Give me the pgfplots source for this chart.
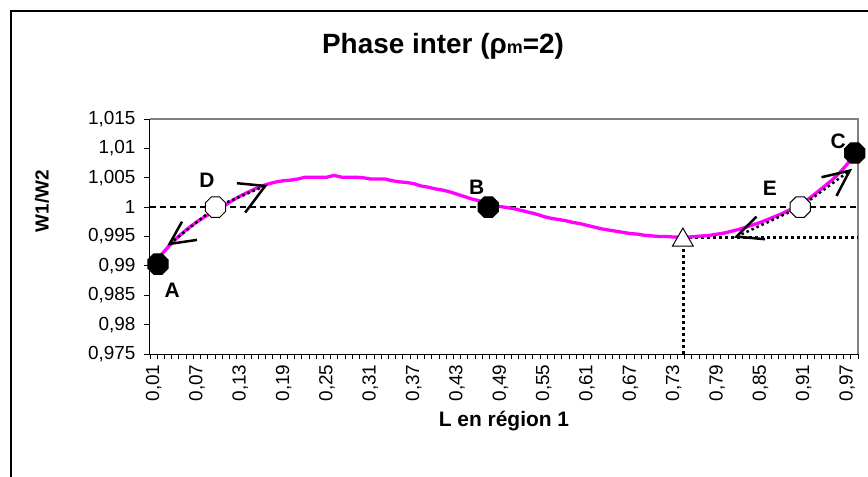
\documentclass[border=0pt]{standalone}
\usepackage{pgfplots}
\pgfplotsset{compat=1.18}
\usepackage{fontspec}
\setmainfont{Liberation Sans}
\definecolor{mag}{RGB}{255,0,255}
\pgfdeclareplotmark{octagon}{%
  \pgfpathmoveto{\pgfpointpolar{22.5}{\pgfplotmarksize}}%
  \pgfpathlineto{\pgfpointpolar{67.5}{\pgfplotmarksize}}%
  \pgfpathlineto{\pgfpointpolar{112.5}{\pgfplotmarksize}}%
  \pgfpathlineto{\pgfpointpolar{157.5}{\pgfplotmarksize}}%
  \pgfpathlineto{\pgfpointpolar{202.5}{\pgfplotmarksize}}%
  \pgfpathlineto{\pgfpointpolar{247.5}{\pgfplotmarksize}}%
  \pgfpathlineto{\pgfpointpolar{292.5}{\pgfplotmarksize}}%
  \pgfpathlineto{\pgfpointpolar{337.5}{\pgfplotmarksize}}%
  \pgfpathclose
  \pgfusepathqfillstroke}
\pgfplotstableread{
x v
0.01 0.9903
0.02 0.9918
0.03 0.9932
0.04 0.9945
0.05 0.9956
0.06 0.9966
0.07 0.9975
0.08 0.9983
0.09 0.9990
0.10 0.9997
0.11 1.0004
0.12 1.0012
0.13 1.0019
0.14 1.0025
0.15 1.0031
0.16 1.0036
0.17 1.0040
0.18 1.0043
0.19 1.0045
0.20 1.0046
0.21 1.0048
0.22 1.0051
0.23 1.0051
0.24 1.0051
0.25 1.0051
0.26 1.0054
0.27 1.0051
0.28 1.0051
0.29 1.0051
0.30 1.0050
0.31 1.0048
0.32 1.0048
0.33 1.0048
0.34 1.0045
0.35 1.0043
0.36 1.0042
0.37 1.0040
0.38 1.0036
0.39 1.0034
0.40 1.0031
0.41 1.0029
0.42 1.0026
0.43 1.0022
0.44 1.0018
0.45 1.0014
0.46 1.0011
0.47 1.0007
0.48 1.0003
0.49 1.0001
0.50 0.9999
0.51 0.9997
0.52 0.9994
0.53 0.9991
0.54 0.9988
0.55 0.9984
0.56 0.9981
0.57 0.9979
0.58 0.9977
0.59 0.9974
0.60 0.9972
0.61 0.9969
0.62 0.9966
0.63 0.9963
0.64 0.9961
0.65 0.9959
0.66 0.9957
0.67 0.9955
0.68 0.9954
0.69 0.9952
0.70 0.9951
0.71 0.9950
0.72 0.9950
0.73 0.9949
0.74 0.9949
0.75 0.9949
0.76 0.9950
0.77 0.9951
0.78 0.9952
0.79 0.9954
0.80 0.9956
0.81 0.9959
0.82 0.9962
0.83 0.9966
0.84 0.9970
0.85 0.9974
0.86 0.9979
0.87 0.9984
0.88 0.9989
0.89 0.9995
0.90 1.0000
0.91 1.0008
0.92 1.0017
0.93 1.0027
0.94 1.0037
0.95 1.0047
0.96 1.0059
0.97 1.0073
0.98 1.0091
}\curve
\begin{document}
\begin{tikzpicture}
\path[use as bounding box] (-150bp,-123bp) rectangle (718bp,354bp);
\draw[line width=2bp] (-139bp,-140bp) -- (-139bp,343bp) -- (740bp,343bp);
\begin{axis}[
  at={(0,0)}, anchor=south west,
  scale only axis, width=708bp, height=235bp,
  xmin=0.005, xmax=0.985, ymin=0.975, ymax=1.015,
  axis x line*=bottom, axis y line*=left,
  axis line style={black, line width=1bp},
  tick align=outside,
  xtick={0.01,0.07,0.13,0.19,0.25,0.31,0.37,0.43,0.49,0.55,0.61,0.67,0.73,0.79,0.85,0.91,0.97},
  xticklabels={{0,01},{0,07},{0,13},{0,19},{0,25},{0,31},{0,37},{0,43},{0,49},{0,55},{0,61},{0,67},{0,73},{0,79},{0,85},{0,91},{0,97}},
  major x tick style={draw=none},
  minor xtick={0.005,0.015,...,0.9851},
  minor tick length=5bp,
  ytick={0.975,0.98,0.985,0.99,0.995,1,1.005,1.01,1.015},
  yticklabels={{0,975},{0,98},{0,985},{0,99},{0,995},{1},{1,005},{1,01},{1,015}},
  major tick length=6bp,
  tick style={black, line width=0.8bp},
  tick label style={font=\fontsize{19}{22}\selectfont},
  xticklabel style={rotate=90, anchor=east, xshift=-1bp},
  yticklabel style={xshift=-5bp},
  clip=false,
]
\draw[gray, line width=1.2bp] (rel axis cs:0,1) -- (rel axis cs:1,1) -- (rel axis cs:1,0);
\addplot[black, line width=1.5bp, dash pattern=on 6bp off 4bp] coordinates {(0.005,1) (0.985,1)};
\addplot[black, line width=3bp, dash pattern=on 3bp off 3bp] coordinates {(0.743,0.975) (0.743,0.9949)};
\addplot[black, line width=3bp, dash pattern=on 3bp off 3bp] coordinates {(0.743,0.9949) (0.985,0.9949)};
\addplot[mag, line width=3.3bp] table[x=x, y=v] {\curve};
% dotted chords and arrowheads
\draw[black, line width=2.5bp, dash pattern=on 2.5bp off 3bp] (axis cs:0.0321,0.99374) -- (axis cs:0.0957,1.0) -- (axis cs:0.1645,1.00361);
\draw[black, line width=2.5bp, dash pattern=on 2.5bp off 3bp] (axis cs:0.8169,0.99498) -- (axis cs:0.905,1.0) -- (axis cs:0.9736,1.00621);
\draw[black, line width=2.5bp] (axis cs:0.0493,0.99753) -- (axis cs:0.0321,0.99374) -- (axis cs:0.0700,0.99442);
\draw[black, line width=2.5bp] (axis cs:0.1253,1.00407) -- (axis cs:0.1645,1.00361) -- (axis cs:0.1368,0.99908);
\draw[black, line width=2.5bp] (axis cs:0.8446,0.99838) -- (axis cs:0.8169,0.99498) -- (axis cs:0.8561,0.99454);
\draw[black, line width=2.5bp] (axis cs:0.9345,1.00509) -- (axis cs:0.9736,1.00621) -- (axis cs:0.9552,1.00190);
\addplot[only marks, mark=octagon, mark size=11bp, mark options={fill=black, draw=black, line width=1bp}] coordinates {(0.016,0.9903) (0.4733,1.0) (0.9805,1.0092)};
\addplot[only marks, mark=octagon, mark size=11bp, mark options={fill=white, draw=black, line width=1bp}] coordinates {(0.0957,1.0) (0.905,1.0)};
\addplot[only marks, mark=triangle*, mark size=12bp, mark options={fill=white, draw=black, line width=1bp, yshift=-3bp}] coordinates {(0.7426,0.9949)};
\node[font=\bfseries\fontsize{21}{24}\selectfont] at (axis cs:0.0358,0.98592) {A};
\node[font=\bfseries\fontsize{21}{24}\selectfont] at (axis cs:0.0838,1.00463) {D};
\node[font=\bfseries\fontsize{21}{24}\selectfont] at (axis cs:0.4573,1.00339) {B};
\node[font=\bfseries\fontsize{21}{24}\selectfont] at (axis cs:0.8630,1.00322) {E};
\node[font=\bfseries\fontsize{21}{24}\selectfont] at (axis cs:0.9575,1.01114) {C};
\end{axis}
\node[anchor=base, font=\bfseries\fontsize{28}{32}\selectfont] at (293bp,300bp) {Phase inter (ρ{\fontsize{18}{20}\selectfont m}=2)};
\node[rotate=90, font=\bfseries\fontsize{19}{22}\selectfont] at (-108bp,153bp) {W1/W2};
\node[anchor=base, font=\bfseries\fontsize{21}{24}\selectfont] at (354bp,-72bp) {L en région 1};
\end{tikzpicture}
\end{document}
